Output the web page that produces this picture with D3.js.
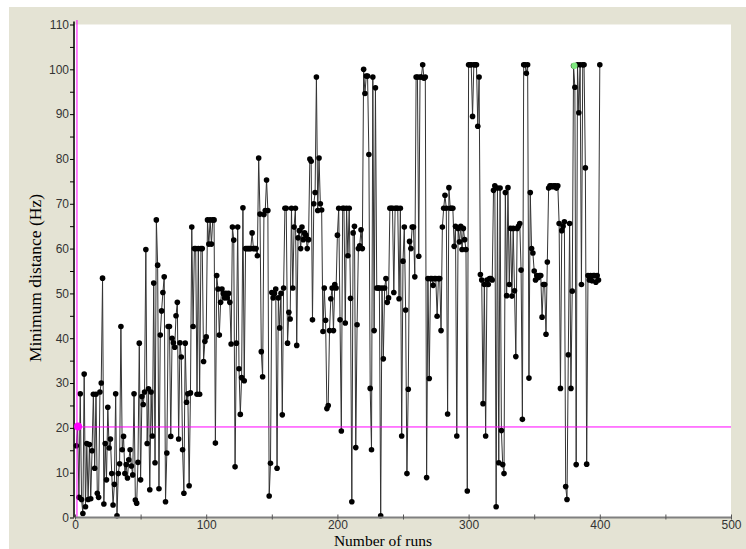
<!DOCTYPE html>
<html><head><meta charset="utf-8">
<script src="https://cdn.jsdelivr.net/npm/d3@7"></script>
<style>body{margin:0;background:#fff}svg{display:block}</style>
</head><body>
<script>
const distance = [
16,20.3,4.5,27.6,4,0.9,32,2.4,16.5,4,
16.3,4.2,14.9,27.5,11,27.5,5.4,4.5,28,30,
53.4,3,16.5,8.4,24.6,15.5,17.5,9.8,2.8,7.4,
27.6,0.4,9.8,12,42.6,15.1,18.1,9.8,11.8,8.8,
12.9,15.1,11.5,9.5,27.6,3.9,3.2,12.3,38.9,8.4,
27,25.2,28,59.8,16.5,28.7,6.2,28,18.2,52.3,
12.2,66.4,56.3,6.4,40.7,46.1,50.2,53.7,3.5,14.4,
42.6,42.6,18.1,40,39,38,45,48,17.5,39,
35.8,15.1,5.4,38.9,25.7,27.6,7.1,27.8,64.8,42.6,
60,60,27.5,60,27.5,60,60,34.8,39.3,40.3,
66.4,61,66.4,61,66.4,66.4,16.6,54,51,40.7,
48,51,50,49,50,49,50,48,38.7,64.8,
61.9,11.3,38.9,64.8,33.2,23,31.2,69.1,30.5,60,
60,60,60,60,63.5,60,60,60,58.4,80.2,
67.7,37,31.4,67.6,68.5,75.3,68.5,4.8,12.1,50.2,
49,50,51,11,49,42.3,50,22.9,51.2,69,
69,38.9,45.8,44.3,69,51.2,64.8,69,38.4,62.4,
64,60,64.8,62,63.5,63,60,62,80,79.5,
44.1,70,72.5,98.3,68.5,80.2,70,68.6,41.5,51.2,
44,24.3,25,41.7,48.8,51.2,41.7,52,51.2,63,
69,44.1,19.3,69,69,43.4,69,58.4,69,48.9,
3.5,63.5,65,15.6,43,60,60.6,64.2,60,100,
94.6,98.5,98.5,81,28.8,15.1,98.3,41.7,95.9,51.2,
51.2,51.2,0.4,51.2,35.4,51.2,53.3,48,49,69,
69,69,50.2,69,69,69,48.8,69,18.2,57.2,
64.8,46.3,9.8,28.6,61.6,60,64.8,64.8,53.7,98.3,
98.3,58.3,98.3,98.3,101,98,98.3,8.9,53.3,31,
53.3,53.3,51.8,53.3,53.3,44.9,53.3,53.3,41.7,64.8,
69,71.9,69,23.1,73.6,69,69,69,60.5,65,
18.2,64.5,61.5,65,59.8,64.5,62,59.8,5.9,101,
101,101,89.5,101,101,101,87.3,98.3,54.2,53,
25.4,52,18.2,53,52,53.3,53.3,53,73,74,
2.4,73.5,12.2,73.5,19.4,11.8,9.8,72.5,49.5,73.6,
52,64.5,49.4,64.5,50.6,35.9,64.5,65,65.6,55.2,
21.9,101,101,99.1,101,31.1,72.5,60,59,55,
53,54,53.5,54,54,44.7,52,52,40.9,57,
73.5,74,74,73.8,74,74,73.5,74,65.6,28.8,
64,65,66,6.9,4,36.3,65.6,28.8,50.5,100.8,
96,11.8,101,90.3,101,52,101,101,78,11.9,
54,53,54,52.8,54,54,52.5,54,53,101
];
const runs = d3.range(1, distance.length + 1);
const threshold = [20.2];
const startPoint = [{run: 2.3, value: 20.3}];
const bestPoint = [{run: 380.6, value: 100.8}];
const markerRun = [1.5];
const xTicks = [0,100,200,300,400,500];
const yTicks = [0,10,20,30,40,50,60,70,80,90,100,110];
const xLabel = "Number of runs";
const yLabel = "Minimum distance (Hz)";

const W = 746, H = 549;
const svg = d3.select("body").append("svg").attr("width", W).attr("height", H);
svg.append("rect").attr("x", 9).attr("y", 7).attr("width", W - 9).attr("height", H - 7).attr("fill", "#e4e3d4");

const L = 75, R = 731, T = 24.5, B = 517.5;
const x = d3.scaleLinear().domain([0, 500]).range([L, R]);
const y = d3.scaleLinear().domain([0, 110]).range([B, T]);

svg.append("rect").attr("x", L).attr("y", T).attr("width", R - L).attr("height", B - T).attr("fill", "#fff");

const pts = runs.map((r, i) => ({run: r, value: distance[i]}));
const line = d3.line().x(d => x(d.run)).y(d => y(d.value));
svg.append("path").datum(pts).attr("d", line).attr("fill", "none").attr("stroke", "#333").attr("stroke-width", 1);

svg.append("g").selectAll("circle").data(pts).join("circle")
  .attr("cx", d => x(d.run)).attr("cy", d => y(d.value)).attr("r", 2.8).attr("fill", "#000");

// threshold line
svg.append("g").selectAll("line").data(threshold).join("line")
  .attr("x1", x(0)).attr("x2", x(500)).attr("y1", d => y(d)).attr("y2", d => y(d))
  .attr("stroke", "#ff00ff").attr("stroke-width", 1);
svg.append("g").selectAll("line").data(markerRun).join("line")
  .attr("x1", d => x(d)).attr("x2", d => x(d)).attr("y1", 20).attr("y2", B)
  .attr("stroke", "#ff00ff").attr("stroke-width", 1);

// x axis
const xAxis = d3.axisBottom(x).tickValues(d3.range(0, 501, 50)).tickSize(4)
  .tickFormat(d => xTicks.includes(d) ? d : "");
const gx = svg.append("g").attr("transform", `translate(0,${B})`).call(xAxis);
gx.select(".domain").attr("stroke", "#808080").attr("stroke-width", 2).attr("d", `M${L},0H${R}`);
gx.selectAll(".tick line").attr("stroke", "#555").attr("y1", -3).attr("y2", 2);
gx.selectAll(".tick text").attr("y", 3).attr("fill", "#333").style("font", "12px 'Liberation Sans', Arial, sans-serif");

// y axis
const yAxis = d3.axisLeft(y).tickValues(d3.range(0, 111, 5)).tickSize(4)
  .tickFormat(d => yTicks.includes(d) ? d : "");
const gy = svg.append("g").attr("transform", `translate(${L - 1},0)`).call(yAxis);
gy.select(".domain").attr("stroke", "#000").attr("stroke-width", 1.5).attr("d", `M0,${T - 3}V${B}`);
gy.selectAll(".tick line").attr("stroke", "#000");
gy.selectAll(".tick text").attr("x", -5).attr("fill", "#333").style("font", "12px 'Liberation Sans', Arial, sans-serif");

// special points
svg.append("g").selectAll("circle").data(startPoint).join("circle")
  .attr("cx", d => x(d.run)).attr("cy", d => y(d.value)).attr("r", 4).attr("fill", "#ff00ff");
svg.append("g").selectAll("circle").data(bestPoint).join("circle")
  .attr("cx", d => x(d.run)).attr("cy", d => y(d.value)).attr("r", 3.2).attr("fill", "#7fe87f");

// titles
svg.append("text").attr("x", 383).attr("y", 545.8).attr("text-anchor", "middle")
  .style("font", "15.5px 'Liberation Serif', 'Times New Roman', serif").attr("fill", "#000").text(xLabel);
svg.append("text").attr("transform", "translate(41,278) rotate(-90)").attr("text-anchor", "middle")
  .style("font", "17.5px 'Liberation Serif', 'Times New Roman', serif").attr("fill", "#000").text(yLabel);
</script>
</body></html>
